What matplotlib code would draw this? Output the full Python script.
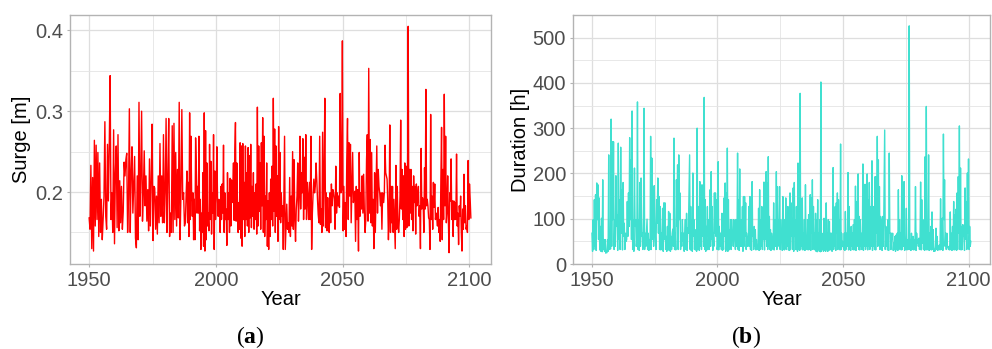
import numpy as np
import matplotlib.pyplot as plt

plt.rcParams['font.family'] = ['Liberation Sans', 'DejaVu Sans']
plt.rcParams['mathtext.fontset'] = 'custom'
plt.rcParams['mathtext.bf'] = 'Liberation Serif:bold'

# surge [m] in four stretches of years
surge_1 = [0.168, 0.154, 0.233, 0.130, 0.218, 0.127, 0.264, 0.158, 0.258, 0.166, 0.249, 0.145, 0.236, 0.150,
           0.191, 0.141, 0.166, 0.195, 0.287, 0.170, 0.154, 0.259, 0.189, 0.257, 0.344, 0.166, 0.199, 0.150,
           0.277, 0.136, 0.224, 0.257, 0.156, 0.271, 0.152, 0.214, 0.162, 0.207, 0.154, 0.176, 0.237, 0.220,
           0.240, 0.248, 0.150, 0.191, 0.303, 0.150, 0.224, 0.256, 0.174, 0.207, 0.244, 0.143, 0.131, 0.220,
           0.141, 0.311, 0.170, 0.220, 0.300, 0.164, 0.199, 0.251, 0.183, 0.220, 0.164, 0.203, 0.152, 0.241,
           0.158, 0.216, 0.284, 0.140, 0.207, 0.205, 0.154, 0.195, 0.148, 0.220, 0.162, 0.260, 0.170, 0.220,
           0.162, 0.271, 0.162, 0.199, 0.291, 0.150, 0.216, 0.291, 0.145, 0.174, 0.150, 0.282, 0.150, 0.285,
           0.166, 0.249, 0.158, 0.228, 0.168, 0.311, 0.141, 0.199, 0.302, 0.191, 0.199, 0.158, 0.162, 0.199]
surge_2 = [0.226, 0.162, 0.212, 0.145, 0.298, 0.166, 0.269, 0.199, 0.170, 0.199, 0.141, 0.191, 0.141, 0.267,
           0.232, 0.174, 0.207, 0.174, 0.269, 0.152, 0.191, 0.129, 0.174, 0.150, 0.224, 0.133, 0.298, 0.127,
           0.276, 0.141, 0.236, 0.158, 0.174, 0.152, 0.259, 0.166, 0.238, 0.148, 0.199, 0.174, 0.271, 0.129,
           0.226, 0.166, 0.199, 0.256, 0.191, 0.170, 0.191, 0.179, 0.150, 0.207, 0.166, 0.210, 0.174, 0.258,
           0.150, 0.199, 0.166, 0.179, 0.134, 0.224, 0.166, 0.199, 0.150, 0.217, 0.158, 0.215, 0.187, 0.203,
           0.236, 0.165, 0.251, 0.286, 0.164, 0.236, 0.187, 0.150, 0.187, 0.154, 0.261, 0.143, 0.257, 0.133,
           0.260, 0.166, 0.212, 0.145, 0.257, 0.166, 0.224, 0.158, 0.255, 0.150, 0.245, 0.168, 0.259, 0.156,
           0.207, 0.170, 0.224, 0.154, 0.199, 0.166, 0.210, 0.148, 0.305, 0.158, 0.257, 0.176, 0.236, 0.154,
           0.261, 0.183, 0.292, 0.150, 0.269, 0.145, 0.195, 0.166, 0.236, 0.133, 0.189, 0.129, 0.199, 0.145,
           0.216, 0.166, 0.232, 0.158, 0.316, 0.176, 0.278, 0.150, 0.257, 0.170, 0.220, 0.139, 0.281, 0.166,
           0.249, 0.162, 0.199, 0.170, 0.183, 0.129]
surge_3 = [0.269, 0.129, 0.158, 0.185, 0.154, 0.162, 0.150, 0.218, 0.145, 0.195, 0.158, 0.250, 0.154, 0.240,
           0.166, 0.139, 0.179, 0.195, 0.236, 0.164, 0.195, 0.269, 0.179, 0.224, 0.199, 0.266, 0.166, 0.243,
           0.179, 0.271, 0.166, 0.212, 0.195, 0.166, 0.212, 0.166, 0.269, 0.129, 0.174, 0.199, 0.216, 0.199,
           0.207, 0.236, 0.216, 0.191, 0.172, 0.162, 0.269, 0.160, 0.179, 0.150, 0.274, 0.158, 0.216, 0.316,
           0.156, 0.199, 0.152, 0.193, 0.158, 0.150, 0.199, 0.162, 0.210, 0.183, 0.203, 0.199, 0.191, 0.154,
           0.232, 0.174, 0.199, 0.183, 0.195, 0.181, 0.322, 0.199, 0.203, 0.387, 0.152, 0.207, 0.154, 0.187,
           0.145, 0.240, 0.291, 0.166, 0.261, 0.195, 0.259, 0.162, 0.207, 0.249, 0.187, 0.195, 0.201, 0.139,
           0.207, 0.166, 0.203, 0.127, 0.249, 0.170, 0.199, 0.179, 0.220, 0.174, 0.222, 0.176, 0.150, 0.166,
           0.240, 0.271, 0.164, 0.353, 0.174, 0.265, 0.162, 0.249, 0.158, 0.191, 0.130, 0.224, 0.150, 0.207,
           0.257, 0.174, 0.228, 0.207, 0.199, 0.183, 0.199, 0.154, 0.199]
surge_4 = [0.187, 0.199, 0.258, 0.224, 0.220, 0.216, 0.189, 0.141, 0.174, 0.283, 0.150, 0.207, 0.162, 0.207,
           0.150, 0.191, 0.162, 0.130, 0.233, 0.154, 0.207, 0.162, 0.150, 0.166, 0.195, 0.289, 0.179, 0.228,
           0.166, 0.220, 0.145, 0.236, 0.154, 0.232, 0.156, 0.187, 0.405, 0.158, 0.228, 0.174, 0.228, 0.166,
           0.207, 0.152, 0.220, 0.187, 0.207, 0.148, 0.210, 0.183, 0.191, 0.207, 0.170, 0.183, 0.130, 0.254,
           0.179, 0.193, 0.187, 0.150, 0.230, 0.179, 0.327, 0.183, 0.191, 0.183, 0.168, 0.166, 0.129, 0.296,
           0.166, 0.195, 0.154, 0.212, 0.181, 0.210, 0.166, 0.174, 0.168, 0.158, 0.181, 0.150, 0.166, 0.139,
           0.216, 0.280, 0.141, 0.228, 0.166, 0.321, 0.183, 0.269, 0.162, 0.176, 0.220, 0.166, 0.125, 0.199,
           0.189, 0.241, 0.166, 0.189, 0.145, 0.189, 0.166, 0.187, 0.166, 0.247, 0.158, 0.174, 0.135, 0.183,
           0.170, 0.195, 0.150, 0.127, 0.179, 0.154, 0.222, 0.162, 0.183, 0.154, 0.158, 0.150, 0.239, 0.166,
           0.210, 0.191, 0.168]
surge_years = [(1950.0, 1988.3), (1988.6, 2026.6), (2027.1, 2065.8), (2066.2, 2100.6)]

# duration [h]
dur_1 = [68, 28, 98, 32, 142, 39, 153, 30, 179, 98, 175, 54, 146, 31, 83, 28, 101, 27, 186, 32, 54, 28, 54, 24,
         26, 25, 54, 28, 241, 32, 68, 33, 320, 39, 270, 98, 270, 32, 98, 39, 195, 83, 109, 30, 267, 54, 142, 32,
         258, 68, 164, 31, 180, 61, 90, 32, 68, 50, 54, 138, 61, 157, 83, 279, 98, 230, 54, 338, 32, 98, 28, 212,
         83, 98, 39, 54, 358, 32, 98, 30, 180, 39, 190, 61, 68, 32, 98, 344, 32, 68, 39, 68, 99, 32, 68, 30, 54,
         32, 282, 32, 234, 54, 171, 39, 173, 98, 54, 32, 142, 90, 190, 68, 149, 32, 127, 31, 68, 39, 123, 28, 135,
         54, 135, 32, 61, 28, 83, 32, 116, 30, 112, 28, 61, 32, 68, 77, 39, 278, 32, 68, 31, 186, 83, 219, 32, 241,
         98, 157, 32, 68, 39, 98, 50, 68, 28, 68, 98, 32, 112, 30, 79, 68]
dur_2 = [241, 32, 127, 30, 98, 28, 201, 61, 98, 32, 76, 31, 68, 28, 300, 32, 68, 127, 30, 182, 39, 164, 32, 175,
         61, 157, 39, 368, 32, 142, 28, 83, 31, 127, 61, 98, 32, 68, 164, 39, 204, 54, 127, 30, 68, 39, 157, 68,
         157, 61, 142, 32, 39, 226, 31, 83, 39, 68, 68, 32, 112, 30, 54, 32, 146, 61, 179, 28, 157, 32, 256, 28,
         142, 31, 76, 54, 98, 32, 98, 68, 68, 39, 98, 57, 54, 32, 98, 39, 61, 245, 32, 142, 30, 210, 39, 98, 39,
         54, 127, 28, 149, 39, 149, 61, 135, 32, 68, 54, 39, 54, 127, 39, 149, 32, 68, 30, 182, 61, 68, 32, 83, 39,
         76, 31, 54, 32, 39, 32, 123, 30, 164, 32, 98, 39, 127, 32, 98, 54, 181, 31, 179, 54, 204, 39, 179, 32,
         237, 39, 105, 32, 76, 30, 68, 54, 54, 32, 135, 31, 98, 39, 68, 204, 32, 171, 54, 98, 39, 171, 32, 98, 54,
         68, 30, 149, 32, 68, 31, 98, 68]
dur_3 = [146, 32, 98, 39, 127, 31, 68, 30, 157, 32, 135, 61, 98, 32, 168, 28, 180, 61, 98, 32, 127, 68, 28, 223,
         32, 83, 30, 377, 32, 142, 39, 146, 31, 68, 32, 98, 30, 175, 32, 61, 39, 98, 31, 109, 32, 68, 153, 30, 146,
         68, 186, 32, 127, 39, 68, 31, 112, 28, 98, 27, 142, 32, 68, 28, 98, 27, 402, 28, 68, 32, 61, 28, 101, 31,
         61, 28, 135, 32, 68, 28, 98, 30, 94, 32, 68, 31, 68, 28, 61, 213, 32, 83, 39, 127, 30, 135, 68, 157, 32,
         142, 39, 98, 31, 265, 32, 68, 39, 50, 39, 32, 68, 30, 116, 32, 68, 39, 68, 202, 31, 127, 32, 68, 30, 83,
         39, 68, 32, 87, 31, 98, 32, 172, 30, 138, 39, 68, 199, 32, 105, 31, 98, 39, 68, 32, 68, 221, 30, 157, 39,
         176, 32, 76, 39, 199, 31, 142, 39, 180, 32, 127, 39, 98, 228, 30, 127, 39, 68, 32, 193, 31, 193, 68, 282,
         39, 230, 68, 171, 32, 105, 98, 68, 30, 105, 39, 83]
dur_4 = [296, 32, 83, 39, 54, 31, 98, 30, 245, 68, 68, 32, 68, 54, 68, 30, 46, 32, 61, 28, 64, 32, 68, 30, 164,
         32, 98, 39, 68, 31, 195, 32, 142, 39, 182, 30, 54, 32, 123, 31, 54, 32, 54, 526, 32, 54, 30, 68, 32, 39,
         61, 31, 54, 32, 171, 30, 68, 46, 54, 39, 57, 32, 54, 181, 31, 142, 46, 98, 32, 76, 30, 237, 32, 348, 31,
         68, 32, 241, 30, 68, 32, 83, 31, 115, 32, 76, 28, 32, 28, 39, 79, 32, 61, 30, 39, 32, 42, 31, 144, 32, 98,
         101, 30, 287, 98, 186, 39, 68, 32, 68, 39, 35, 32, 39, 31, 115, 32, 68, 30, 83, 32, 138, 31, 109, 32, 121,
         30, 157, 32, 193, 68, 305, 32, 212, 31, 83, 32, 87, 61, 68, 30, 168, 54, 138, 32, 201, 68, 232, 32, 83,
         39, 50]
dur_years = [(1950.0, 1988.4), (1988.9, 2027.1), (2027.2, 2066.2), (2066.6, 2100.9)]


def stitch(parts, spans):
    x = np.concatenate([np.linspace(s, e, len(p)) for p, (s, e) in zip(parts, spans)])
    return x, np.concatenate(parts)


xa, ya = stitch([surge_1, surge_2, surge_3, surge_4], surge_years)
xb, yb = stitch([dur_1, dur_2, dur_3, dur_4], dur_years)

fig = plt.figure(figsize=(9.92, 3.49), dpi=100)
ax1 = fig.add_axes([70 / 992, 85 / 349, 421 / 992, 249 / 349])
ax2 = fig.add_axes([573 / 992, 85 / 349, 417 / 992, 249 / 349])


def style(ax):
    ax.set_xlim(1942.45, 2108.55)
    ax.set_xticks([1950, 2000, 2050, 2100])
    ax.set_xticks([1975, 2025, 2075], minor=True)
    ax.grid(which='major', color='#DEDEDE', lw=0.9)
    ax.grid(which='minor', color='#E4E4E4', lw=0.6)
    ax.set_axisbelow(True)
    for s in ax.spines.values():
        s.set_color('#B3B3B3')
        s.set_linewidth(1.0)
    ax.tick_params(which='major', length=2.5, width=0.8, color='#B3B3B3',
                   labelsize=14.5, labelcolor='#4D4D4D', pad=2.5)
    ax.tick_params(which='minor', length=0)
    ax.set_xlabel('Year', fontsize=14.5, labelpad=0)


ax1.plot(xa, ya, color='#FF0000', lw=1.0)
style(ax1)
ax1.set_ylim(0.111, 0.419)
ax1.set_yticks([0.2, 0.3, 0.4])
ax1.set_yticks([0.15, 0.25, 0.35], minor=True)
ax1.set_ylabel('Surge [m]', fontsize=14.5, labelpad=3)

ax2.plot(xb, yb, color='#40E0D0', lw=1.0)
style(ax2)
ax2.set_ylim(0, 550)
ax2.set_yticks([0, 100, 200, 300, 400, 500])
ax2.set_yticks([50, 150, 250, 350, 450], minor=True)
ax2.set_ylabel('Duration [h]', fontsize=14.5, labelpad=2)

fig.text(0.252, 12 / 349, '($\\mathbf{a}$)', ha='center', va='center', family='Liberation Serif', fontsize=17)
fig.text(0.752, 12 / 349, '($\\mathbf{b}$)', ha='center', va='center', family='Liberation Serif', fontsize=17)

fig.savefig('out.png', dpi=100)
